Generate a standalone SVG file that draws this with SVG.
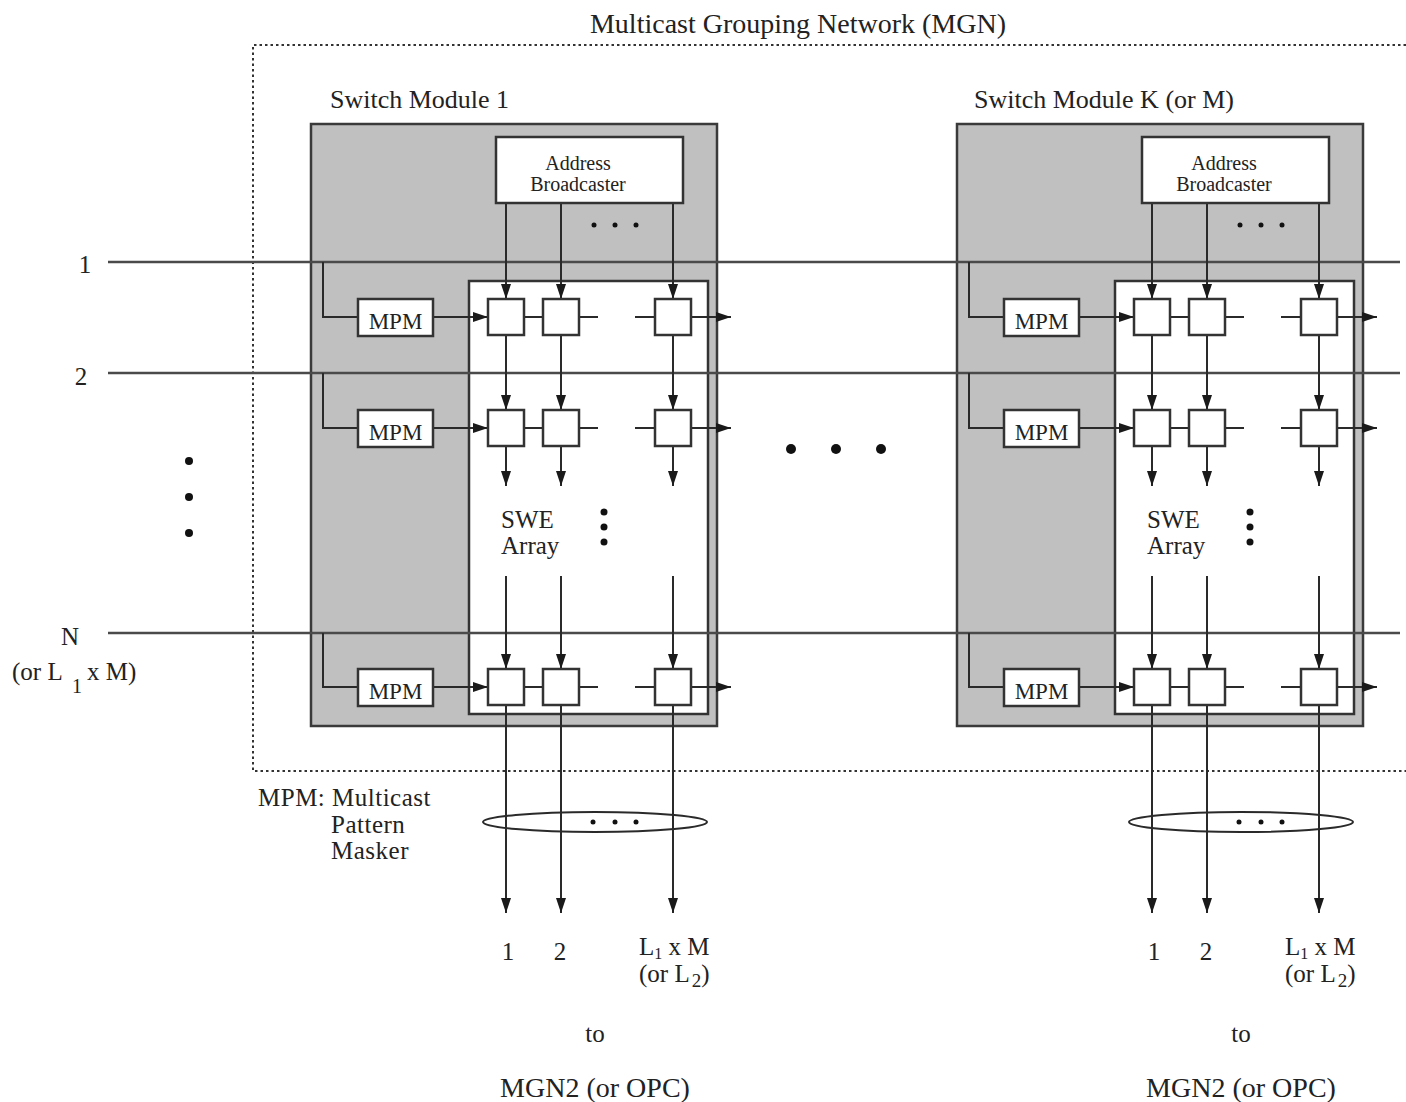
<svg xmlns="http://www.w3.org/2000/svg" width="1406" height="1102" viewBox="0 0 1406 1102">
<style>
text{font-family:"Liberation Serif","DejaVu Serif",serif;fill:#222}
.t25{font-size:25px}
.t26{font-size:26px}
.t27{font-size:28px}
.t20{font-size:20px}
.t23{font-size:23px}
.leg{font-size:25px;letter-spacing:0.5px}
.mod{fill:#c0c0c0;stroke:#3a3a3a;stroke-width:2.5}
.inner{fill:#fff;stroke:#333;stroke-width:2.5}
.box{fill:#fff;stroke:#333;stroke-width:2.5}
.ln{fill:none;stroke:#2a2a2a;stroke-width:2}
.in{fill:none;stroke:#4a4a4a;stroke-width:2.5}
.arr{fill:none;stroke:#2a2a2a;stroke-width:2;marker-end:url(#ah)}
.dot{fill:#111}
</style>
<defs>
<marker id="ah" markerWidth="16" markerHeight="12" refX="15" refY="6" orient="auto" markerUnits="userSpaceOnUse">
<path d="M0,1 L15,6 L0,11 Z" fill="#1a1a1a"/>
</marker>
</defs>
<rect width="1406" height="1102" fill="#fff"/>

<g id="mgn">
<path d="M1406,45 H253 V771 H1406" fill="none" stroke="#333" stroke-width="2" stroke-dasharray="2.5,3"/>
<text class="t27" x="798" y="33" text-anchor="middle">Multicast Grouping Network (MGN)</text>
</g>

<g id="module-1-body">
<rect class="mod" x="311" y="124" width="406" height="602"/>
<rect class="inner" x="469" y="281" width="239" height="433"/>
<text class="t26" x="330" y="108">Switch Module 1</text>
</g>
<g id="module-K-body" transform="translate(646,0)">
<rect class="mod" x="311" y="124" width="406" height="602"/>
<rect class="inner" x="469" y="281" width="239" height="433"/>
<text class="t26" x="328" y="108">Switch Module K (or M)</text>
</g>

<g id="connectors">
<path class="in" d="M108,262 H1400"/>
<path class="in" d="M108,373 H1400"/>
<path class="in" d="M108,633 H1400"/>
<g id="conn-m1">
<path class="ln" d="M323,262 V317 H358 M323,373 V428 H358 M323,633 V687 H358"/>
<path class="arr" d="M433,317 H488"/><path class="arr" d="M433,428 H488"/><path class="arr" d="M433,687 H488"/>
<path class="ln" d="M524,317 H543 M579,317 H598 M635,317 H655 M524,428 H543 M579,428 H598 M635,428 H655 M524,687 H543 M579,687 H598 M635,687 H655"/>
<path class="arr" d="M691,317 H731"/><path class="arr" d="M691,428 H731"/><path class="arr" d="M691,687 H731"/>
<path class="arr" d="M506,203 V299"/><path class="arr" d="M561,203 V299"/><path class="arr" d="M673,203 V299"/>
<path class="arr" d="M506,335 V410"/><path class="arr" d="M561,335 V410"/><path class="arr" d="M673,335 V410"/>
<path class="arr" d="M506,446 V486"/><path class="arr" d="M561,446 V486"/><path class="arr" d="M673,446 V486"/>
<path class="arr" d="M506,576 V669"/><path class="arr" d="M561,576 V669"/><path class="arr" d="M673,576 V669"/>
<path class="arr" d="M506,705 V913"/><path class="arr" d="M561,705 V913"/><path class="arr" d="M673,705 V913"/>
<ellipse cx="595" cy="822" rx="112" ry="10" fill="none" stroke="#2a2a2a" stroke-width="2"/>
</g>
<g id="conn-mK" transform="translate(646,0)">
<path class="ln" d="M323,262 V317 H358 M323,373 V428 H358 M323,633 V687 H358"/>
<path class="arr" d="M433,317 H488"/><path class="arr" d="M433,428 H488"/><path class="arr" d="M433,687 H488"/>
<path class="ln" d="M524,317 H543 M579,317 H598 M635,317 H655 M524,428 H543 M579,428 H598 M635,428 H655 M524,687 H543 M579,687 H598 M635,687 H655"/>
<path class="arr" d="M691,317 H731"/><path class="arr" d="M691,428 H731"/><path class="arr" d="M691,687 H731"/>
<path class="arr" d="M506,203 V299"/><path class="arr" d="M561,203 V299"/><path class="arr" d="M673,203 V299"/>
<path class="arr" d="M506,335 V410"/><path class="arr" d="M561,335 V410"/><path class="arr" d="M673,335 V410"/>
<path class="arr" d="M506,446 V486"/><path class="arr" d="M561,446 V486"/><path class="arr" d="M673,446 V486"/>
<path class="arr" d="M506,576 V669"/><path class="arr" d="M561,576 V669"/><path class="arr" d="M673,576 V669"/>
<path class="arr" d="M506,705 V913"/><path class="arr" d="M561,705 V913"/><path class="arr" d="M673,705 V913"/>
<ellipse cx="595" cy="822" rx="112" ry="10" fill="none" stroke="#2a2a2a" stroke-width="2"/>
</g>
</g>

<g id="module-1-parts">
<g id="ab-1"><rect class="box" x="496" y="137" width="187" height="66"/>
<text class="t20" x="578" y="170" text-anchor="middle">Address</text>
<text class="t20" x="578" y="191" text-anchor="middle">Broadcaster</text></g>
<g id="mpm-1-1"><rect class="box" x="358" y="299" width="75" height="37"/><text class="t23" x="395.5" y="329" text-anchor="middle">MPM</text></g>
<g id="mpm-1-2"><rect class="box" x="358" y="410" width="75" height="37"/><text class="t23" x="395.5" y="440" text-anchor="middle">MPM</text></g>
<g id="mpm-1-N"><rect class="box" x="358" y="669" width="75" height="37"/><text class="t23" x="395.5" y="699" text-anchor="middle">MPM</text></g>
<g id="swe-1">
<rect class="box" x="488" y="299" width="36" height="36"/><rect class="box" x="543" y="299" width="36" height="36"/><rect class="box" x="655" y="299" width="36" height="36"/>
<rect class="box" x="488" y="410" width="36" height="36"/><rect class="box" x="543" y="410" width="36" height="36"/><rect class="box" x="655" y="410" width="36" height="36"/>
<rect class="box" x="488" y="669" width="36" height="36"/><rect class="box" x="543" y="669" width="36" height="36"/><rect class="box" x="655" y="669" width="36" height="36"/>
<text class="t25" x="501" y="528">SWE</text><text class="t25" x="501" y="554">Array</text>
<circle class="dot" cx="604" cy="512" r="3.5"/><circle class="dot" cx="604" cy="527" r="3.5"/><circle class="dot" cx="604" cy="542" r="3.5"/>
</g>
<circle class="dot" cx="594" cy="225" r="2.5"/><circle class="dot" cx="615" cy="225" r="2.5"/><circle class="dot" cx="636" cy="225" r="2.5"/>
<circle class="dot" cx="593" cy="822" r="2.5"/><circle class="dot" cx="615" cy="822" r="2.5"/><circle class="dot" cx="636" cy="822" r="2.5"/>
<text class="t25" x="508" y="960" text-anchor="middle">1</text>
<text class="t25" x="560" y="960" text-anchor="middle">2</text>
<text class="t25" x="639" y="955">L<tspan font-size="16" dy="4">1</tspan><tspan dy="-4"> x M</tspan></text>
<text class="t25" x="639" y="982">(or L<tspan font-size="19" dx="2" dy="5">2</tspan><tspan dy="-5">)</tspan></text>
<text class="t25" x="595" y="1042" text-anchor="middle">to</text>
<text class="t27" x="595" y="1097" text-anchor="middle">MGN2 (or OPC)</text>
</g>

<g id="module-K-parts" transform="translate(646,0)">
<g id="ab-K"><rect class="box" x="496" y="137" width="187" height="66"/>
<text class="t20" x="578" y="170" text-anchor="middle">Address</text>
<text class="t20" x="578" y="191" text-anchor="middle">Broadcaster</text></g>
<g id="mpm-K-1"><rect class="box" x="358" y="299" width="75" height="37"/><text class="t23" x="395.5" y="329" text-anchor="middle">MPM</text></g>
<g id="mpm-K-2"><rect class="box" x="358" y="410" width="75" height="37"/><text class="t23" x="395.5" y="440" text-anchor="middle">MPM</text></g>
<g id="mpm-K-N"><rect class="box" x="358" y="669" width="75" height="37"/><text class="t23" x="395.5" y="699" text-anchor="middle">MPM</text></g>
<g id="swe-K">
<rect class="box" x="488" y="299" width="36" height="36"/><rect class="box" x="543" y="299" width="36" height="36"/><rect class="box" x="655" y="299" width="36" height="36"/>
<rect class="box" x="488" y="410" width="36" height="36"/><rect class="box" x="543" y="410" width="36" height="36"/><rect class="box" x="655" y="410" width="36" height="36"/>
<rect class="box" x="488" y="669" width="36" height="36"/><rect class="box" x="543" y="669" width="36" height="36"/><rect class="box" x="655" y="669" width="36" height="36"/>
<text class="t25" x="501" y="528">SWE</text><text class="t25" x="501" y="554">Array</text>
<circle class="dot" cx="604" cy="512" r="3.5"/><circle class="dot" cx="604" cy="527" r="3.5"/><circle class="dot" cx="604" cy="542" r="3.5"/>
</g>
<circle class="dot" cx="594" cy="225" r="2.5"/><circle class="dot" cx="615" cy="225" r="2.5"/><circle class="dot" cx="636" cy="225" r="2.5"/>
<circle class="dot" cx="593" cy="822" r="2.5"/><circle class="dot" cx="615" cy="822" r="2.5"/><circle class="dot" cx="636" cy="822" r="2.5"/>
<text class="t25" x="508" y="960" text-anchor="middle">1</text>
<text class="t25" x="560" y="960" text-anchor="middle">2</text>
<text class="t25" x="639" y="955">L<tspan font-size="16" dy="4">1</tspan><tspan dy="-4"> x M</tspan></text>
<text class="t25" x="639" y="982">(or L<tspan font-size="19" dx="2" dy="5">2</tspan><tspan dy="-5">)</tspan></text>
<text class="t25" x="595" y="1042" text-anchor="middle">to</text>
<text class="t27" x="595" y="1097" text-anchor="middle">MGN2 (or OPC)</text>
</g>

<g id="labels">
<text class="t25" x="85" y="273" text-anchor="middle">1</text>
<text class="t25" x="81" y="385" text-anchor="middle">2</text>
<text class="t25" x="70" y="645" text-anchor="middle">N</text>
<text class="t25" x="12" y="680">(or L</text>
<text class="t20" x="72" y="693">1</text>
<text class="t25" x="87" y="680">x M)</text>
<circle class="dot" cx="189" cy="461" r="4"/><circle class="dot" cx="189" cy="497" r="4"/><circle class="dot" cx="189" cy="533" r="4"/>
<circle class="dot" cx="791" cy="449" r="5"/><circle class="dot" cx="836" cy="449" r="5"/><circle class="dot" cx="881" cy="449" r="5"/>
<text class="leg" x="258" y="806">MPM: Multicast</text>
<text class="leg" x="331" y="833">Pattern</text>
<text class="leg" x="331" y="859">Masker</text>
</g>
</svg>
